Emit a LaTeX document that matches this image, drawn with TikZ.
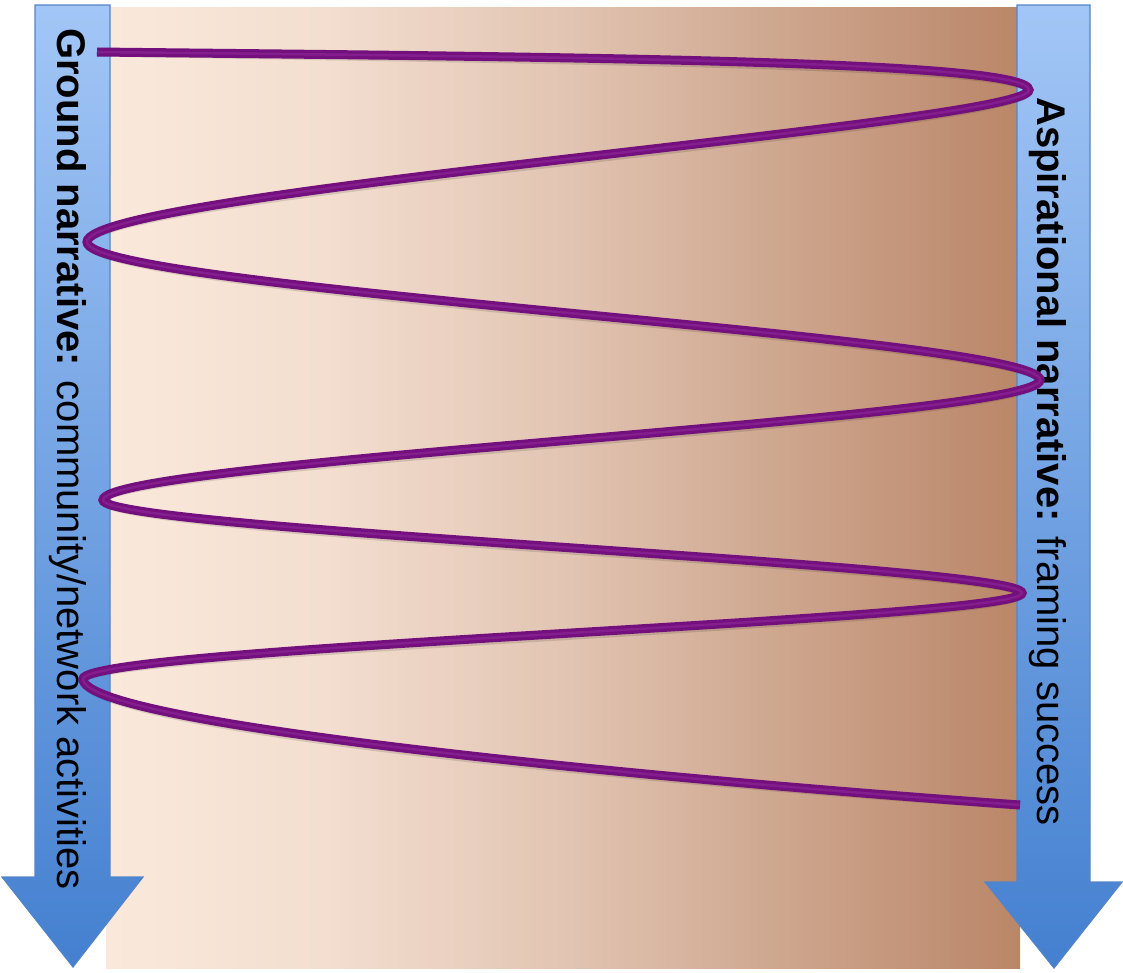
\documentclass[tikz,border=0pt]{standalone}
\usepackage{fontspec}
\setmainfont{Liberation Sans}
\definecolor{bgA}{RGB}{250,233,219}
\definecolor{bgB}{RGB}{243,222,207}
\definecolor{bgC}{RGB}{226,197,179}
\definecolor{bgD}{RGB}{206,166,142}
\definecolor{bgE}{RGB}{186,134,104}
\definecolor{arrowTop}{RGB}{162,198,246}
\definecolor{arrowBot}{RGB}{68,128,208}
\definecolor{arrowLine}{RGB}{84,132,200}
\definecolor{tubeOuter}{RGB}{115,16,125}
\definecolor{tubeInner}{RGB}{132,30,142}
\pgfdeclarehorizontalshading{bgshade}{100bp}{color(0bp)=(bgA); color(25bp)=(bgA); color(37bp)=(bgB); color(50bp)=(bgC); color(62bp)=(bgD); color(75bp)=(bgE); color(100bp)=(bgE)}
\tikzset{
  bigarrow/.style={top color=arrowTop, bottom color=arrowBot, draw=arrowLine, line width=1.2pt, line join=miter},
  tubeshadow/.style={draw=black, opacity=0.12, line width=9pt, line cap=butt, shift={(1.5,3)}},
  tubeout/.style={draw=tubeOuter, line width=9pt, line cap=butt},
  tubein/.style={draw=tubeInner, line width=2.5pt, line cap=butt},
  label/.style={rotate=-90, anchor=base west, inner sep=0pt, font=\fontsize{40}{48}\selectfont, text=black}
}
\begin{document}
\begin{tikzpicture}[x=1pt,y=-1pt]
\useasboundingbox (0,0) rectangle (1123,972);
% background panel
\path[shading=bgshade] (106,7) rectangle (1020,968);
% left arrow
\path[bigarrow] (35,5) -- (110,5) -- (110,877) -- (143,877) -- (73,967) -- (2,877) -- (35,877) -- cycle;
% right arrow
\path[bigarrow] (1017,5) -- (1090,5) -- (1090,882) -- (1122,882) -- (1054,968) -- (985,882) -- (1017,882) -- cycle;
% labels
\node[label] (ground) at (57,28) {\textbf{Ground narrative:} community/network activities};
\node[label] (aspir) at (1037,97) {\textbf{Aspirational narrative:} framing success};
% zigzag tube
\coordinate (S) at (97,52);
\coordinate (R1) at (1029,90);
\coordinate (L1) at (87,242);
\coordinate (R2) at (1040,380);
\coordinate (L2) at (103,500);
\coordinate (R3) at (1022,593);
\coordinate (L3) at (83,679);
\coordinate (E) at (1020,805);
\foreach \st in {tubeshadow,tubeout,tubein}{
\path[\st] (S) .. controls (550,57) and (1029,60) .. (R1)
  .. controls (1029,124) and (87,192) .. (L1)
  .. controls (87,289) and (1040,337) .. (R2)
  .. controls (1040,419) and (103,461) .. (L2)
  .. controls (103,530) and (1022,565) .. (R3)
  .. controls (1022,620) and (83,647) .. (L3)
  .. controls (83,722) and (600,775) .. (E);
}
\end{tikzpicture}
\end{document}
